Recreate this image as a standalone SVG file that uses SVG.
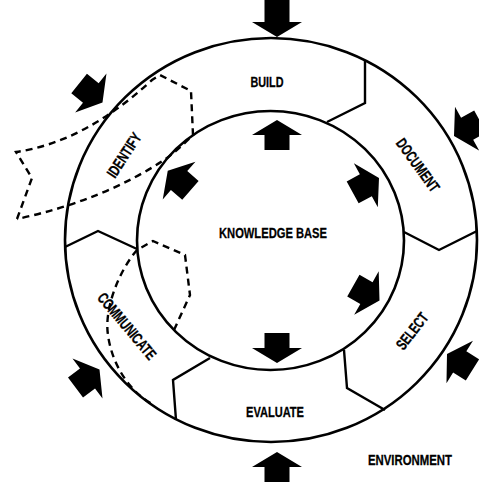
<svg xmlns="http://www.w3.org/2000/svg" width="479" height="482" viewBox="0 0 479 482">
<style>
.ring{fill:none;stroke:#000;stroke-width:2.6}
.div{fill:none;stroke:#000;stroke-width:2.4;stroke-linejoin:miter}
.dash{fill:none;stroke:#000;stroke-width:2.4;stroke-dasharray:7 5}
.lbl{font-family:"Liberation Sans",Arial,sans-serif;font-weight:bold;font-size:15.5px;fill:#000;stroke:#000;stroke-width:0.3}
.arr{fill:#000}
</style>
<defs>
<polygon id="arr" points="0,0 -15,-25 -15,-12.5 -30,-12.5 -30,12.5 -15,12.5 -15,25"/>
<polygon id="arrL" points="0,0 -15,-25 -15,-12.5 -40,-12.5 -40,12.5 -15,12.5 -15,25"/>
</defs>
<rect width="479" height="482" fill="#fff"/>
<g id="rings">
<ellipse class="ring" cx="271" cy="240" rx="206" ry="202"/>
<ellipse class="ring" cx="270.5" cy="240.5" rx="133.5" ry="129.5"/>
</g>
<g id="dividers">
<polyline class="div" points="365,60 365,103 327,122"/>
<polyline class="div" points="404,232 439,250 477,231"/>
<polyline class="div" points="344,350 347,388 385,410"/>
<polyline class="div" points="210,358 173,380 176,420"/>
<polyline class="div" points="65,247 98,231 137,249"/>
</g>
<g id="dashed">
<path class="dash" d="M17,219 L32,178 L16,152 Q85,142 152,80 L160,75 L191,91 L193,135 Q180,148 167,158 Q105,200 17,219"/>
<path class="dash" d="M174,330 L190,295 L185,255 L153,241 L137,250 C118,272 104,310 108,335 C112,365 130,392 152,404"/>
</g>
<g id="build"><text class="lbl" x="250.5" y="86.5" textLength="33" lengthAdjust="spacingAndGlyphs">BUILD</text></g>
<g id="document"><text class="lbl" transform="translate(418,165) rotate(54)" x="-31" y="5.5" textLength="62" lengthAdjust="spacingAndGlyphs">DOCUMENT</text></g>
<g id="select"><text class="lbl" transform="translate(412,331) rotate(-52)" x="-21" y="5.5" textLength="42" lengthAdjust="spacingAndGlyphs">SELECT</text></g>
<g id="evaluate"><text class="lbl" x="246" y="416.5" textLength="58" lengthAdjust="spacingAndGlyphs">EVALUATE</text></g>
<g id="communicate"><text class="lbl" transform="translate(127,326) rotate(50)" x="-41" y="5.5" textLength="82" lengthAdjust="spacingAndGlyphs">COMMUNICATE</text></g>
<g id="identify"><text class="lbl" transform="translate(124,155) rotate(-57)" x="-25" y="5.5" textLength="50" lengthAdjust="spacingAndGlyphs">IDENTIFY</text></g>
<g id="knowledge-base"><text class="lbl" x="219" y="237.5" textLength="108" lengthAdjust="spacingAndGlyphs">KNOWLEDGE BASE</text></g>
<g id="environment"><text class="lbl" x="368" y="464.5" textLength="84" lengthAdjust="spacingAndGlyphs">ENVIRONMENT</text></g>
<g id="connectors" class="arr">
<use href="#arrL" transform="translate(277,37) rotate(90)"/>
<use href="#arr" transform="translate(277,120) rotate(-90)"/>
<use href="#arr" transform="translate(277,363) rotate(90)"/>
<use href="#arrL" transform="translate(277,452) rotate(-90)"/>
<use href="#arr" transform="translate(102.5,102.4) rotate(38.8)"/>
<use href="#arr" transform="translate(167.75,170.75) rotate(220.9)"/>
<use href="#arr" transform="translate(379,178) rotate(-28.6)"/>
<use href="#arr" transform="translate(454,136) rotate(151)"/>
<use href="#arr" transform="translate(379.5,300.4) rotate(29.4)"/>
<use href="#arr" transform="translate(447,354) rotate(212)"/>
<use href="#arr" transform="translate(99.5,369.5) rotate(-36.9)"/>
</g>
</svg>
